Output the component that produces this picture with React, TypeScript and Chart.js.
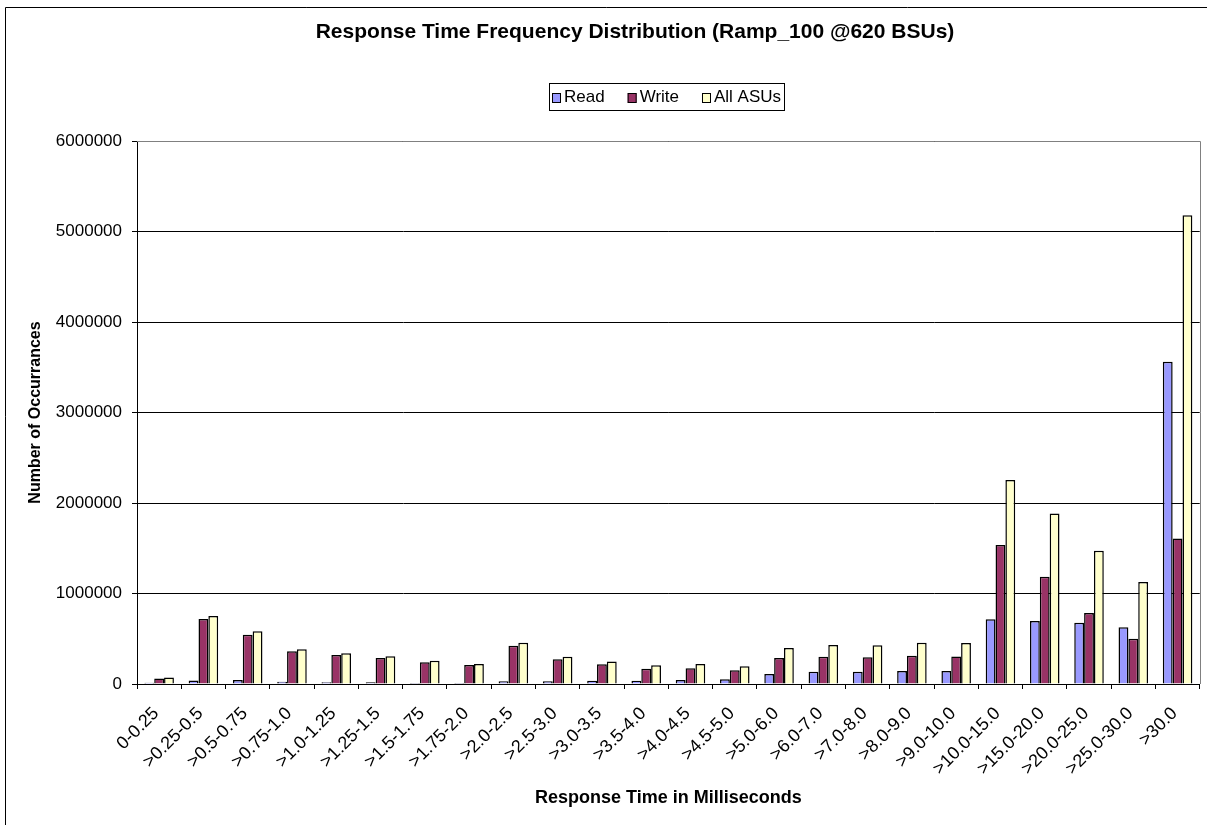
import React, { useEffect, useRef } from "react";
import { Chart, registerables } from "chart.js";

Chart.register(...registerables);

const chartTitle = "Response Time Frequency Distribution (Ramp_100 @620 BSUs)";
const xAxisTitle = "Response Time in Milliseconds";
const yAxisTitle = "Number of Occurrances";

const categories = [
  "0-0.25", ">0.25-0.5", ">0.5-0.75", ">0.75-1.0", ">1.0-1.25", ">1.25-1.5",
  ">1.5-1.75", ">1.75-2.0", ">2.0-2.5", ">2.5-3.0", ">3.0-3.5", ">3.5-4.0",
  ">4.0-4.5", ">4.5-5.0", ">5.0-6.0", ">6.0-7.0", ">7.0-8.0", ">8.0-9.0",
  ">9.0-10.0", ">10.0-15.0", ">15.0-20.0", ">20.0-25.0", ">25.0-30.0", ">30.0",
];

const readValues = [
  15000, 40000, 44000, 25000, 20000, 18000, 12000, 12000, 30000, 30000, 37000, 37000,
  44000, 52000, 110000, 136000, 135000, 143000, 143000, 715000, 696000, 678000, 626000, 3560000,
];

const writeValues = [
  60000, 718000, 545000, 361000, 320000, 287000, 240000, 210000, 423000, 273000, 217000, 169000,
  173000, 151000, 287000, 302000, 295000, 313000, 305000, 1536000, 1186000, 784000, 501000, 1609000,
];

const allAsuValues = [
  72000, 751000, 582000, 383000, 339000, 306000, 258000, 221000, 456000, 302000, 250000, 206000,
  221000, 195000, 398000, 431000, 427000, 457000, 453000, 2254000, 1883000, 1473000, 1128000, 5179000,
];

const seriesNames = ["Read", "Write", "All ASUs"];
const seriesColors = ["#9999FF", "#993366", "#FFFFCC"];

const yMin = 0;
const yMax = 6000000;
const yStep = 1000000;

const FONT = "'Liberation Sans', Arial, Helvetica, sans-serif";

const W = 1207;
const H = 825;

const decorPlugin = {
  id: "decor",
  beforeDraw(chart: any) {
    const ctx = chart.ctx;
    ctx.save();
    ctx.fillStyle = "#ffffff";
    ctx.fillRect(0, 0, W, H);
    ctx.restore();
  },
  afterDatasetsDraw(chart: any) {
    const ctx = chart.ctx;
    const a = chart.chartArea;
    ctx.save();
    ctx.strokeStyle = "#808080";
    ctx.lineWidth = 1;
    ctx.beginPath();
    ctx.moveTo(a.left, Math.round(a.top) + 0.5);
    ctx.lineTo(Math.round(a.right) + 0.5, Math.round(a.top) + 0.5);
    ctx.lineTo(Math.round(a.right) + 0.5, a.bottom);
    ctx.stroke();
    ctx.restore();
  },
  afterDraw(chart: any) {
    const ctx = chart.ctx;
    ctx.save();
    // outer chart frame (right and bottom edges fall outside the picture)
    ctx.strokeStyle = "#000000";
    ctx.lineWidth = 1;
    ctx.beginPath();
    ctx.moveTo(5.5, H + 5);
    ctx.lineTo(5.5, 7.5);
    ctx.lineTo(W + 5, 7.5);
    ctx.stroke();

    // title
    ctx.fillStyle = "#000000";
    ctx.font = `bold 21px ${FONT}`;
    ctx.textAlign = "center";
    ctx.textBaseline = "middle";
    ctx.fillText(chartTitle, 635, 32);

    // legend
    ctx.font = `17px ${FONT}`;
    const boxW = 9;
    const boxH = 10;
    const gapBoxText = 3;
    const gapItems = 23;
    const padX = 3;
    const widths = seriesNames.map((n) => ctx.measureText(n).width);
    let total = padX * 2;
    widths.forEach((w, i) => {
      total += boxW + gapBoxText + w + (i < widths.length - 1 ? gapItems : 0);
    });
    const lx = Math.round(667 - total / 2);
    const ly = 83;
    const lh = 27;
    ctx.strokeStyle = "#000000";
    ctx.strokeRect(lx + 0.5, ly + 0.5, Math.round(total), lh);
    let x = lx + padX;
    const cy = ly + lh / 2 + 1;
    ctx.textAlign = "left";
    seriesNames.forEach((n, i) => {
      const by = Math.round(cy - boxH / 2);
      ctx.fillStyle = seriesColors[i];
      ctx.fillRect(x, by, boxW, boxH);
      ctx.strokeStyle = "#000000";
      ctx.strokeRect(x + 0.5, by + 0.5, boxW - 1, boxH - 1);
      ctx.fillStyle = "#000000";
      ctx.fillText(n, x + boxW + gapBoxText, cy);
      x += boxW + gapBoxText + widths[i] + gapItems;
    });
    ctx.restore();
  },
};

export default function App() {
  const canvasRef = useRef<HTMLCanvasElement | null>(null);

  useEffect(() => {
    document.body.style.margin = "0";
    const canvas = canvasRef.current;
    if (!canvas) return;
    const datasets = [readValues, writeValues, allAsuValues].map((vals, i) => ({
      label: seriesNames[i],
      data: vals,
      backgroundColor: seriesColors[i],
      borderColor: "#000000",
      borderWidth: 1.5,
      categoryPercentage: 0.667,
      barPercentage: 1.0,
    }));

    const chart = new Chart(canvas, {
      type: "bar",
      data: { labels: categories, datasets },
      plugins: [decorPlugin],
      options: {
        responsive: false,
        animation: false,
        devicePixelRatio: 1,
        layout: { padding: { left: 0, right: 7, top: 141, bottom: 0 } },
        plugins: {
          legend: { display: false },
          title: { display: false },
          tooltip: { enabled: false },
        },
        scales: {
          x: {
            offset: true,
            afterFit(scale: any) {
              scale.height = H - 684;
            },
            grid: {
              display: true,
              offset: true,
              drawOnChartArea: false,
              drawTicks: true,
              tickLength: 5,
              color: "#000000",
            },
            border: { display: true, color: "#000000", width: 1 },
            ticks: {
              autoSkip: false,
              maxRotation: 45,
              minRotation: 45,
              color: "#000000",
              padding: 14,
              labelOffset: -3,
              font: { family: FONT, size: 18 },
            },
            title: {
              display: true,
              text: xAxisTitle,
              color: "#000000",
              font: { family: FONT, size: 18, weight: "bold" },
              padding: { top: 0, bottom: 16 },
            },
          },
          y: {
            min: yMin,
            max: yMax,
            afterFit(scale: any) {
              scale.width = 137;
            },
            grid: {
              display: true,
              color: "#000000",
              drawTicks: true,
              tickLength: 5,
            },
            border: { display: true, color: "#000000", width: 1 },
            ticks: {
              stepSize: yStep,
              color: "#000000",
              padding: 10,
              font: { family: FONT, size: 17 },
              callback: (v: any) => String(v),
            },
            title: {
              display: true,
              text: yAxisTitle,
              color: "#000000",
              font: { family: FONT, size: 16, weight: "bold" },
              padding: { top: 26, bottom: 0 },
            },
          },
        },
      },
    });

    return () => {
      chart.destroy();
    };
  }, []);

  return (
    <div style={{ width: W, height: H, background: "#fff" }}>
      <canvas ref={canvasRef} width={W} height={H} style={{ display: "block" }} />
    </div>
  );
}
